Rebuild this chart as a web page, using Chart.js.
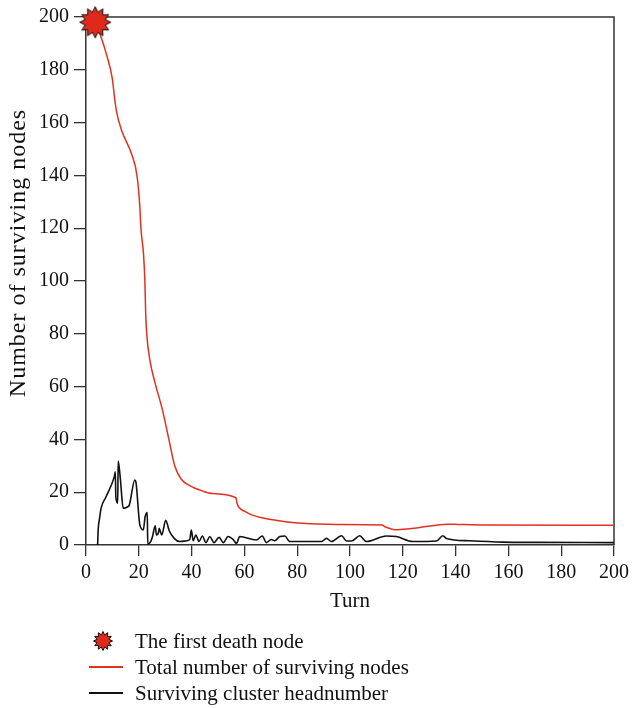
<!DOCTYPE html>
<html>
<head>
<meta charset="utf-8">
<script src="https://cdn.jsdelivr.net/npm/chart.js@4.4.1/dist/chart.umd.min.js"></script>
<style>
  html, body { margin:0; padding:0; background:#fff; }
  #wrap { position:relative; width:634px; height:708px; }
  canvas { position:absolute; left:0; top:0; }
  .leg { position:absolute; left:0; font-family:"Liberation Serif", serif; font-size:21px; color:#111; white-space:nowrap; }
  .leg span { position:absolute; left:135px; top:-13px; line-height:26px; }
</style>
</head>
<body>
<div id="wrap">
  <canvas id="c" width="634" height="708"></canvas>
  <div class="leg" style="top:641px"><canvas id="legStar" width="24" height="24" style="left:91px; top:-12px;"></canvas><span>The first death node</span></div>
  <div class="leg" style="top:667px"><div style="position:absolute;left:89px;width:34px;top:-1px;height:1.5px;background:#e0321f"></div><span>Total number of surviving nodes</span></div>
  <div class="leg" style="top:693px"><div style="position:absolute;left:89px;width:34px;top:-1px;height:1.6px;background:#111"></div><span>Surviving cluster headnumber</span></div>
</div>
<script>
// ---- data ----
const tickValues = [0, 20, 40, 60, 80, 100, 120, 140, 160, 180, 200];
const yTitle = 'Number of surviving nodes';
const xTitle = 'Turn';
const starX = [3.5];
const starY = [198];
const totalX = [3.5, 5.5, 8, 9.9, 11, 11.6, 13.5, 17.3, 19.3, 20.4, 20.8, 21.8, 22.3, 22.6, 23.0, 24.2, 26, 29, 31.4, 33.6, 36, 39.3, 44, 48, 56.8, 57.2, 58, 60, 63, 68, 73, 82, 95, 112, 113.5, 116, 118, 125, 137, 141, 150, 200];
const totalY = [198, 193, 185, 177, 168, 164, 157, 148, 140, 128, 120, 110, 100, 88, 80, 70, 62, 51, 40, 30, 25, 22.5, 20.5, 19.5, 17.9, 15.8, 14.2, 12.8, 11.3, 10, 9.2, 8.2, 7.8, 7.6, 6.8, 6.0, 5.8, 6.4, 7.9, 7.8, 7.6, 7.5];
const headX = [4.4, 4.6, 5.2, 5.7, 7.6, 10.7, 11.1, 11.3, 12.0, 12.2, 13.0, 14.1, 15.8, 16.4, 18.5, 18.9, 20.4, 21.7, 22.4, 23.2, 23.4, 24.6, 25.2, 26.2, 26.7, 27.5, 27.7, 28.7, 30.2, 31.5, 33.4, 35.5, 38.1, 39.3, 39.9, 40.6, 41.6, 42.8, 44.1, 45.4, 46.9, 48.5, 50.4, 52.0, 53.8, 55.7, 57.0, 58.2, 64.5, 66.8, 68.3, 70.2, 71.5, 73.4, 75.3, 77.2, 80, 89.2, 91.1, 93, 96.8, 98.7, 100.6, 103.7, 106.2, 113.8, 117.5, 123.8, 132.7, 135.2, 136.5, 145.3, 157.9, 170.5, 200];
const headY = [0, 5.5, 10.5, 13.9, 18.3, 25.8, 27.7, 18.3, 15.8, 31.8, 25.2, 13.9, 14.5, 15.1, 24.6, 23.9, 7.6, 5.7, 10.7, 12.3, 0.3, 1.5, 3.2, 7.3, 3.8, 4.8, 6.3, 3.8, 9.4, 5.5, 2.5, 1.3, 1.6, 2.1, 5.7, 1.6, 3.8, 1.3, 3.4, 0.9, 3.2, 0.9, 2.9, 0.9, 3.2, 2.1, 0.6, 3.2, 1.9, 3.4, 0.9, 2.1, 1.6, 3.2, 3.4, 1.3, 1.3, 1.3, 2.5, 1.3, 3.5, 1.5, 1.5, 3.5, 1.3, 3.4, 3.2, 1.3, 1.5, 3.5, 2.5, 1.6, 1.1, 1.0, 0.9];

const RED = '#e0321f';
const AXIS = '#333';
const FONT = '"Liberation Serif", serif';

function drawStar(cv, rOut, rIn) {
  const ctx = cv.getContext('2d');
  const cx = cv.width / 2, cy = cv.height / 2, n = 12;
  ctx.beginPath();
  for (let i = 0; i < n * 2; i++) {
    const r = i % 2 === 0 ? rOut : rIn;
    const a = -Math.PI / 2 + i * Math.PI / n;
    const px = cx + r * Math.cos(a), py = cy + r * Math.sin(a);
    if (i === 0) ctx.moveTo(px, py); else ctx.lineTo(px, py);
  }
  ctx.closePath();
  ctx.fillStyle = '#dd2a1b';
  ctx.fill();
  ctx.lineWidth = 1;
  ctx.strokeStyle = '#111';
  ctx.stroke();
  return cv;
}
const starImg = document.createElement('canvas');
starImg.width = 34; starImg.height = 34;
drawStar(starImg, 15.5, 10.5);
drawStar(document.getElementById('legStar'), 9.5, 6.3);

const pts = (xs, ys) => xs.map((x, i) => ({ x, y: ys[i] }));

const framePlugin = {
  id: 'frame',
  beforeDatasetsDraw(chart) {
    const { ctx, chartArea: a } = chart;
    ctx.save();
    ctx.strokeStyle = AXIS;
    ctx.lineWidth = 1.5;
    ctx.beginPath();
    ctx.moveTo(a.left, a.top);
    ctx.lineTo(a.right, a.top);
    ctx.lineTo(a.right, a.bottom);
    ctx.stroke();
    ctx.restore();
  }
};

const yTitlePlugin = {
  id: 'yTitle',
  afterDraw(chart) {
    const { ctx } = chart;
    ctx.save();
    ctx.translate(19, 253);
    ctx.rotate(-Math.PI / 2);
    ctx.font = '24px ' + FONT;
    ctx.letterSpacing = '1px';
    ctx.fillStyle = '#111';
    ctx.textAlign = 'center';
    ctx.textBaseline = 'middle';
    ctx.fillText(yTitle, 0, 0);
    ctx.restore();
  }
};

const axisCommon = () => ({
  type: 'linear', min: 0, max: 200,
  afterBuildTicks: s => { s.ticks = tickValues.map(v => ({ value: v })); },
  ticks: { font: { family: FONT, size: 20 }, color: '#111', padding: 5 },
  grid: { display: true, drawOnChartArea: false, drawTicks: true, tickLength: 12, color: AXIS, lineWidth: 1.3 },
  border: { display: true, color: AXIS, width: 1.5 }
});

const xAxis = axisCommon();
xAxis.title = { display: true, text: xTitle, font: { family: FONT, size: 21 }, color: '#111', padding: { top: 0, bottom: 1 } };
xAxis.afterFit = s => { s.height = 70; };
xAxis.grid.tickLength = 11;
const yAxis = axisCommon();
yAxis.afterFit = s => { s.width = 86; };

new Chart(document.getElementById('c'), {
  type: 'line',
  data: {
    datasets: [
      { label: 'The first death node', data: pts(starX, starY), showLine: false, pointStyle: starImg, pointRadius: 16, clip: false },
      { label: 'Total number of surviving nodes', data: pts(totalX, totalY), borderColor: RED, borderWidth: 1.5, pointRadius: 0, cubicInterpolationMode: 'monotone', fill: false },
      { label: 'Surviving cluster headnumber', data: pts(headX, headY), borderColor: '#111', borderWidth: 1.6, pointRadius: 0, cubicInterpolationMode: 'monotone', fill: false }
    ]
  },
  options: {
    responsive: false, animation: false,
    layout: { padding: { left: 0, top: 15, right: 19, bottom: 93 } },
    plugins: { legend: { display: false }, tooltip: { enabled: false } },
    scales: { x: xAxis, y: yAxis }
  },
  plugins: [framePlugin, yTitlePlugin]
});
</script>
</body>
</html>
